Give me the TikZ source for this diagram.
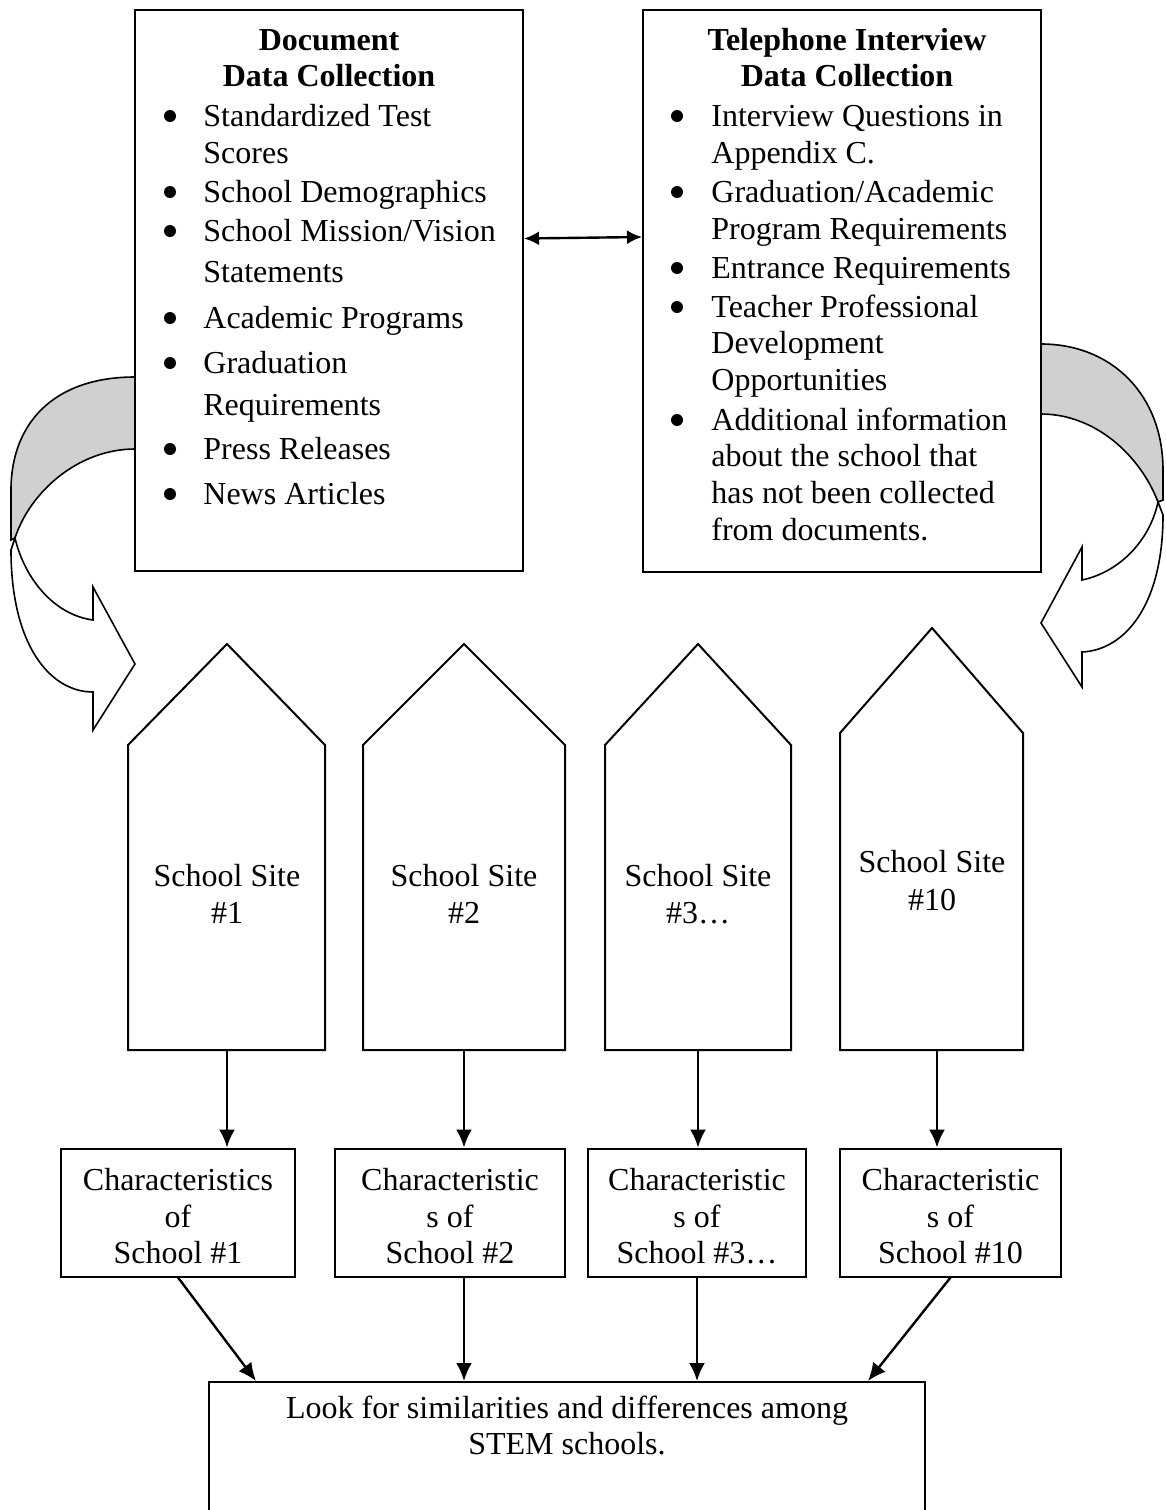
\documentclass[tikz,border=0pt]{standalone}
\usepackage{fontspec}
\setmainfont{Liberation Serif}
\usetikzlibrary{arrows.meta,calc}
\definecolor{bandgray}{RGB}{208,208,208}
\begin{document}
\begin{tikzpicture}[x=0.5pt,y=-0.5pt,
  txt/.style={inner sep=0pt,font=\fontsize{16pt}{18.5pt}\selectfont},
  ttl/.style={txt,font=\fontsize{16pt}{18.5pt}\selectfont\bfseries,anchor=base},
  ln/.style={txt,anchor=base west},
  ctr/.style={txt,anchor=base},
  bul/.style={circle,fill,inner sep=0pt,minimum size=6pt},
  frame/.style={draw,line width=1pt,inner sep=0pt},
  house/.style={draw,line width=1pt},
  conn/.style={line width=1.2pt,-{Latex[length=9pt,width=8pt]}},
  dbl/.style={line width=1.2pt,{Latex[length=7.5pt,width=7pt]}-{Latex[length=7.5pt,width=7pt]}},
  band/.style={draw,line width=0.8pt,fill=bandgray},
  front/.style={draw,line width=0.8pt,fill=white}]
\useasboundingbox (0,0) rectangle (1166,1510);

% ---------- top boxes ----------
\node[frame,minimum width=194pt,minimum height=280.5pt] (doc) at (329,290.5) {};
\node[frame,minimum width=199pt,minimum height=281pt] (tel) at (842,291) {};

\node[ttl] (docT1) at (329,50) {Document};
\node[ttl] (docT2) at (329,86) {Data Collection};
\node[ttl] (telT1) at (847,50) {Telephone Interview};
\node[ttl] (telT2) at (847,86) {Data Collection};

% left list
\foreach \n/\y in {a/116,b/192,c/231,d/318,e/363,f/449,g/494}
  \node[bul] (db\n) at (170,\y) {};
\node[ln] (dl1) at (203,126) {Standardized Test};
\node[ln] (dl2) at (203,163) {Scores};
\node[ln] (dl3) at (203,202) {School Demographics};
\node[ln] (dl4) at (203,241) {School Mission/Vision};
\node[ln] (dl5) at (203,282) {Statements};
\node[ln] (dl6) at (203,328) {Academic Programs};
\node[ln] (dl7) at (203,373) {Graduation};
\node[ln] (dl8) at (203,415) {Requirements};
\node[ln] (dl9) at (203,459) {Press Releases};
\node[ln] (dl10) at (203,504) {News Articles};

% right list
\foreach \n/\y in {a/116,b/192,c/268,d/307,e/420}
  \node[bul] (tb\n) at (677,\y) {};
\node[ln] (tl1) at (711,126) {Interview Questions in};
\node[ln] (tl2) at (711,163) {Appendix C.};
\node[ln] (tl3) at (711,202) {Graduation/Academic};
\node[ln] (tl4) at (711,239) {Program Requirements};
\node[ln] (tl5) at (711,278) {Entrance Requirements};
\node[ln] (tl6) at (711,317) {Teacher Professional};
\node[ln] (tl7) at (711,353) {Development};
\node[ln] (tl8) at (711,390) {Opportunities};
\node[ln] (tl9) at (711,430) {Additional information};
\node[ln] (tl10) at (711,466) {about the school that};
\node[ln] (tl11) at (711,503) {has not been collected};
\node[ln] (tl12) at (711,540) {from documents.};

\draw[dbl] ($(doc.east)+(0,-52)$) -- ($(tel.west)+(0,-54)$);

% ---------- curved arrows ----------
\path[band] (135,377) .. controls (52,377) and (11,425) .. (11,490) -- (11,540) -- (15,538)
  .. controls (30,492) and (78,449) .. (135,449) -- cycle;
\path[front] (15,538) -- (11,550) .. controls (11,645) and (50,692) .. (93,692) -- (93,730)
  -- (135,664) -- (93,587) -- (93,620) .. controls (55,615) and (25,580) .. (15,538) -- cycle;

\path[band] (1041,344) .. controls (1112,344) and (1163,395) .. (1163,470) -- (1163,500) -- (1158,502)
  .. controls (1140,455) and (1095,414) .. (1041,414) -- cycle;
\path[front] (1158,502) -- (1163,515) .. controls (1163,605) and (1125,650) .. (1082,652) -- (1082,687)
  -- (1041,623) -- (1082,547) -- (1082,580) .. controls (1120,572) and (1150,540) .. (1158,502) -- cycle;

% ---------- houses ----------
\draw[house] (128,1050) -- (128,745) -- (227,644) -- (325,745) -- (325,1050) -- cycle;
\draw[house] (363,1050) -- (363,745) -- (464,644) -- (565,745) -- (565,1050) -- cycle;
\draw[house] (605,1050) -- (605,745) -- (698,644) -- (791,745) -- (791,1050) -- cycle;
\draw[house] (840,1050) -- (840,733) -- (932,628) -- (1023,733) -- (1023,1050) -- cycle;
\coordinate (h1b) at (227,1050);
\coordinate (h2b) at (464,1050);
\coordinate (h3b) at (698,1050);
\coordinate (h4b) at (937,1050);

\node[ctr] (h1a) at (227,886) {School Site};
\node[ctr] (h1n) at (227,923) {\#1};
\node[ctr] (h2a) at (464,886) {School Site};
\node[ctr] (h2n) at (464,923) {\#2};
\node[ctr] (h3a) at (698,886) {School Site};
\node[ctr] (h3n) at (698,923) {\#3…};
\node[ctr] (h4a) at (932,872) {School Site};
\node[ctr] (h4n) at (932,910) {\#10};

% ---------- characteristic boxes ----------
\node[frame,minimum width=117pt,minimum height=64pt] (c1) at (178,1212.5) {};
\node[frame,minimum width=115pt,minimum height=64pt] (c2) at (450,1212.5) {};
\node[frame,minimum width=109pt,minimum height=64pt] (c3) at (697,1212.5) {};
\node[frame,minimum width=110.5pt,minimum height=64pt] (c4) at (950.5,1212.5) {};

\node[ctr] (c1a) at (178,1190) {Characteristics};
\node[ctr] (c1b) at (178,1227) {of};
\node[ctr] (c1c) at (178,1263) {School \#1};
\node[ctr] (c2a) at (450,1190) {Characteristic};
\node[ctr] (c2b) at (450,1227) {s of};
\node[ctr] (c2c) at (450,1263) {School \#2};
\node[ctr] (c3a) at (697,1190) {Characteristic};
\node[ctr] (c3b) at (697,1227) {s of};
\node[ctr] (c3c) at (697,1263) {School \#3…};
\node[ctr] (c4a) at (950.5,1190) {Characteristic};
\node[ctr] (c4b) at (950.5,1227) {s of};
\node[ctr] (c4c) at (950.5,1263) {School \#10};

\draw[conn] (h1b) -- (h1b |- c1.north);
\draw[conn] (h2b) -- (h2b |- c2.north);
\draw[conn] (h3b) -- (h3b |- c3.north);
\draw[conn] (h4b) -- (h4b |- c4.north);

% ---------- bottom box ----------
\node[frame,minimum width=358pt,minimum height=66pt] (look) at (567,1448) {};
\node[ctr] (lk1) at (567,1418) {Look for similarities and differences among};
\node[ctr] (lk2) at (567,1454) {STEM schools.};

\coordinate (c2o) at (464,1277);
\draw[conn] (c1.south) -- ($(look.north west)+(48,0)$);
\draw[conn] (c2o) -- (c2o |- look.north);
\draw[conn] (c3.south) -- (c3.south |- look.north);
\draw[conn] (c4.south) -- ($(look.north east)+(-58,0)$);
\end{tikzpicture}
\end{document}
